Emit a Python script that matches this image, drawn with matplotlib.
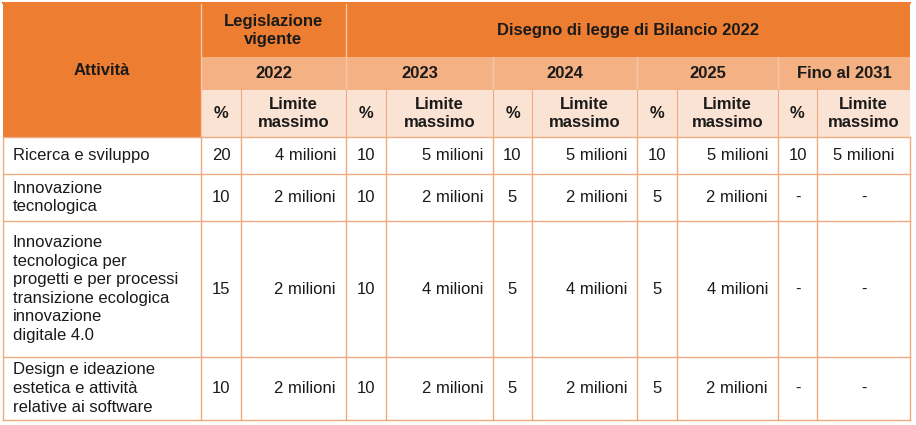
import matplotlib.pyplot as plt
from matplotlib.patches import Rectangle

plt.rcParams['font.family'] = ['Liberation Sans', 'DejaVu Sans']

# Table content
attivita = [
    "Ricerca e sviluppo",
    "Innovazione\ntecnologica",
    "Innovazione\ntecnologica per\nprogetti e per processi\ntransizione ecologica\ninnovazione\ndigitale 4.0",
    "Design e ideazione\nestetica e attività\nrelative ai software",
]
anni = ["2022", "2023", "2024", "2025", "Fino al 2031"]
perc = [
    ["20", "10", "10", "10", "10"],
    ["10", "10", "5", "5", "-"],
    ["15", "10", "5", "5", "-"],
    ["10", "10", "5", "5", "-"],
]
limite = [
    ["4 milioni", "5 milioni", "5 milioni", "5 milioni", "5 milioni"],
    ["2 milioni", "2 milioni", "2 milioni", "2 milioni", "-"],
    ["2 milioni", "4 milioni", "4 milioni", "4 milioni", "-"],
    ["2 milioni", "2 milioni", "2 milioni", "2 milioni", "-"],
]

# Layout (pixels)
col_x = [3, 201, 241, 346, 386, 493, 532, 637, 677, 778, 817, 910]
row_y = [3, 57, 90, 137, 174, 221, 357, 420]

dark = "#ED7D31"
mid = "#F4B183"
light = "#FBE3D4"
grid = "#EFAA7E"

fig = plt.figure(figsize=(9.16, 4.25), dpi=100)
ax = fig.add_axes([0, 0, 1, 1])
ax.set_xlim(0, 916)
ax.set_ylim(425, 0)
ax.axis("off")

def cell(x0, y0, x1, y1, color):
    ax.add_patch(Rectangle((x0, y0), x1 - x0, y1 - y0, facecolor=color, edgecolor="none"))

# Header backgrounds
cell(col_x[0], row_y[0], col_x[1], row_y[3], dark)
cell(col_x[1], row_y[0], col_x[-1], row_y[1], dark)
cell(col_x[1], row_y[1], col_x[-1], row_y[2], mid)
cell(col_x[1], row_y[2], col_x[-1], row_y[3], light)

# Header separators
ax.plot([col_x[1], col_x[1]], [row_y[0], row_y[3]], color="#F8C9A8", lw=1)
ax.plot([col_x[3], col_x[3]], [row_y[0], row_y[2]], color="#F8C9A8", lw=1)
for i in (5, 7, 9):
    ax.plot([col_x[i], col_x[i]], [row_y[1], row_y[2]], color="#F8C9A8", lw=1)
for i in range(2, 11):
    ax.plot([col_x[i], col_x[i]], [row_y[2], row_y[3]], color=grid, lw=0.8)

# Data grid
for y in row_y[3:]:
    ax.plot([col_x[0], col_x[-1]], [y, y], color=grid, lw=1)
for x in col_x:
    ax.plot([x, x], [row_y[3], row_y[-1]], color=grid, lw=1)
ax.plot([col_x[0], col_x[-1]], [row_y[0], row_y[0]], color=dark, lw=1.5)

fs = 12
hdr = dict(fontsize=fs, fontweight="bold", color="#1a1a1a", ha="center", va="center", linespacing=1.25)
ax.text((col_x[0] + col_x[1]) / 2, (row_y[0] + row_y[3]) / 2, "Attività", **hdr)
ax.text((col_x[1] + col_x[3]) / 2, (row_y[0] + row_y[1]) / 2, "Legislazione\nvigente", **hdr)
ax.text((col_x[3] + col_x[-1]) / 2, (row_y[0] + row_y[1]) / 2, "Disegno di legge di Bilancio 2022", **hdr)
for j, a in enumerate(anni):
    x0, x1 = col_x[1 + 2 * j], col_x[3 + 2 * j]
    ax.text((x0 + x1) / 2, (row_y[1] + row_y[2]) / 2, a, **hdr)
    ym = (row_y[2] + row_y[3]) / 2
    ax.text((col_x[1 + 2 * j] + col_x[2 + 2 * j]) / 2, ym, "%", **hdr)
    ax.text((col_x[2 + 2 * j] + col_x[3 + 2 * j]) / 2, ym, "Limite\nmassimo", **hdr)

body = dict(fontsize=fs, color="#1a1a1a", va="center", linespacing=1.3)
for i, name in enumerate(attivita):
    ym = (row_y[3 + i] + row_y[4 + i]) / 2
    ax.text(col_x[0] + 10, ym, name, ha="left", **body)
    for j in range(len(anni)):
        ax.text((col_x[1 + 2 * j] + col_x[2 + 2 * j]) / 2, ym, perc[i][j], ha="center", **body)
        if j == len(anni) - 1:
            ax.text((col_x[2 + 2 * j] + col_x[3 + 2 * j]) / 2, ym, limite[i][j], ha="center", **body)
        else:
            ax.text(col_x[3 + 2 * j] - 10, ym, limite[i][j], ha="right", **body)

fig.savefig("out.png", dpi=100)
